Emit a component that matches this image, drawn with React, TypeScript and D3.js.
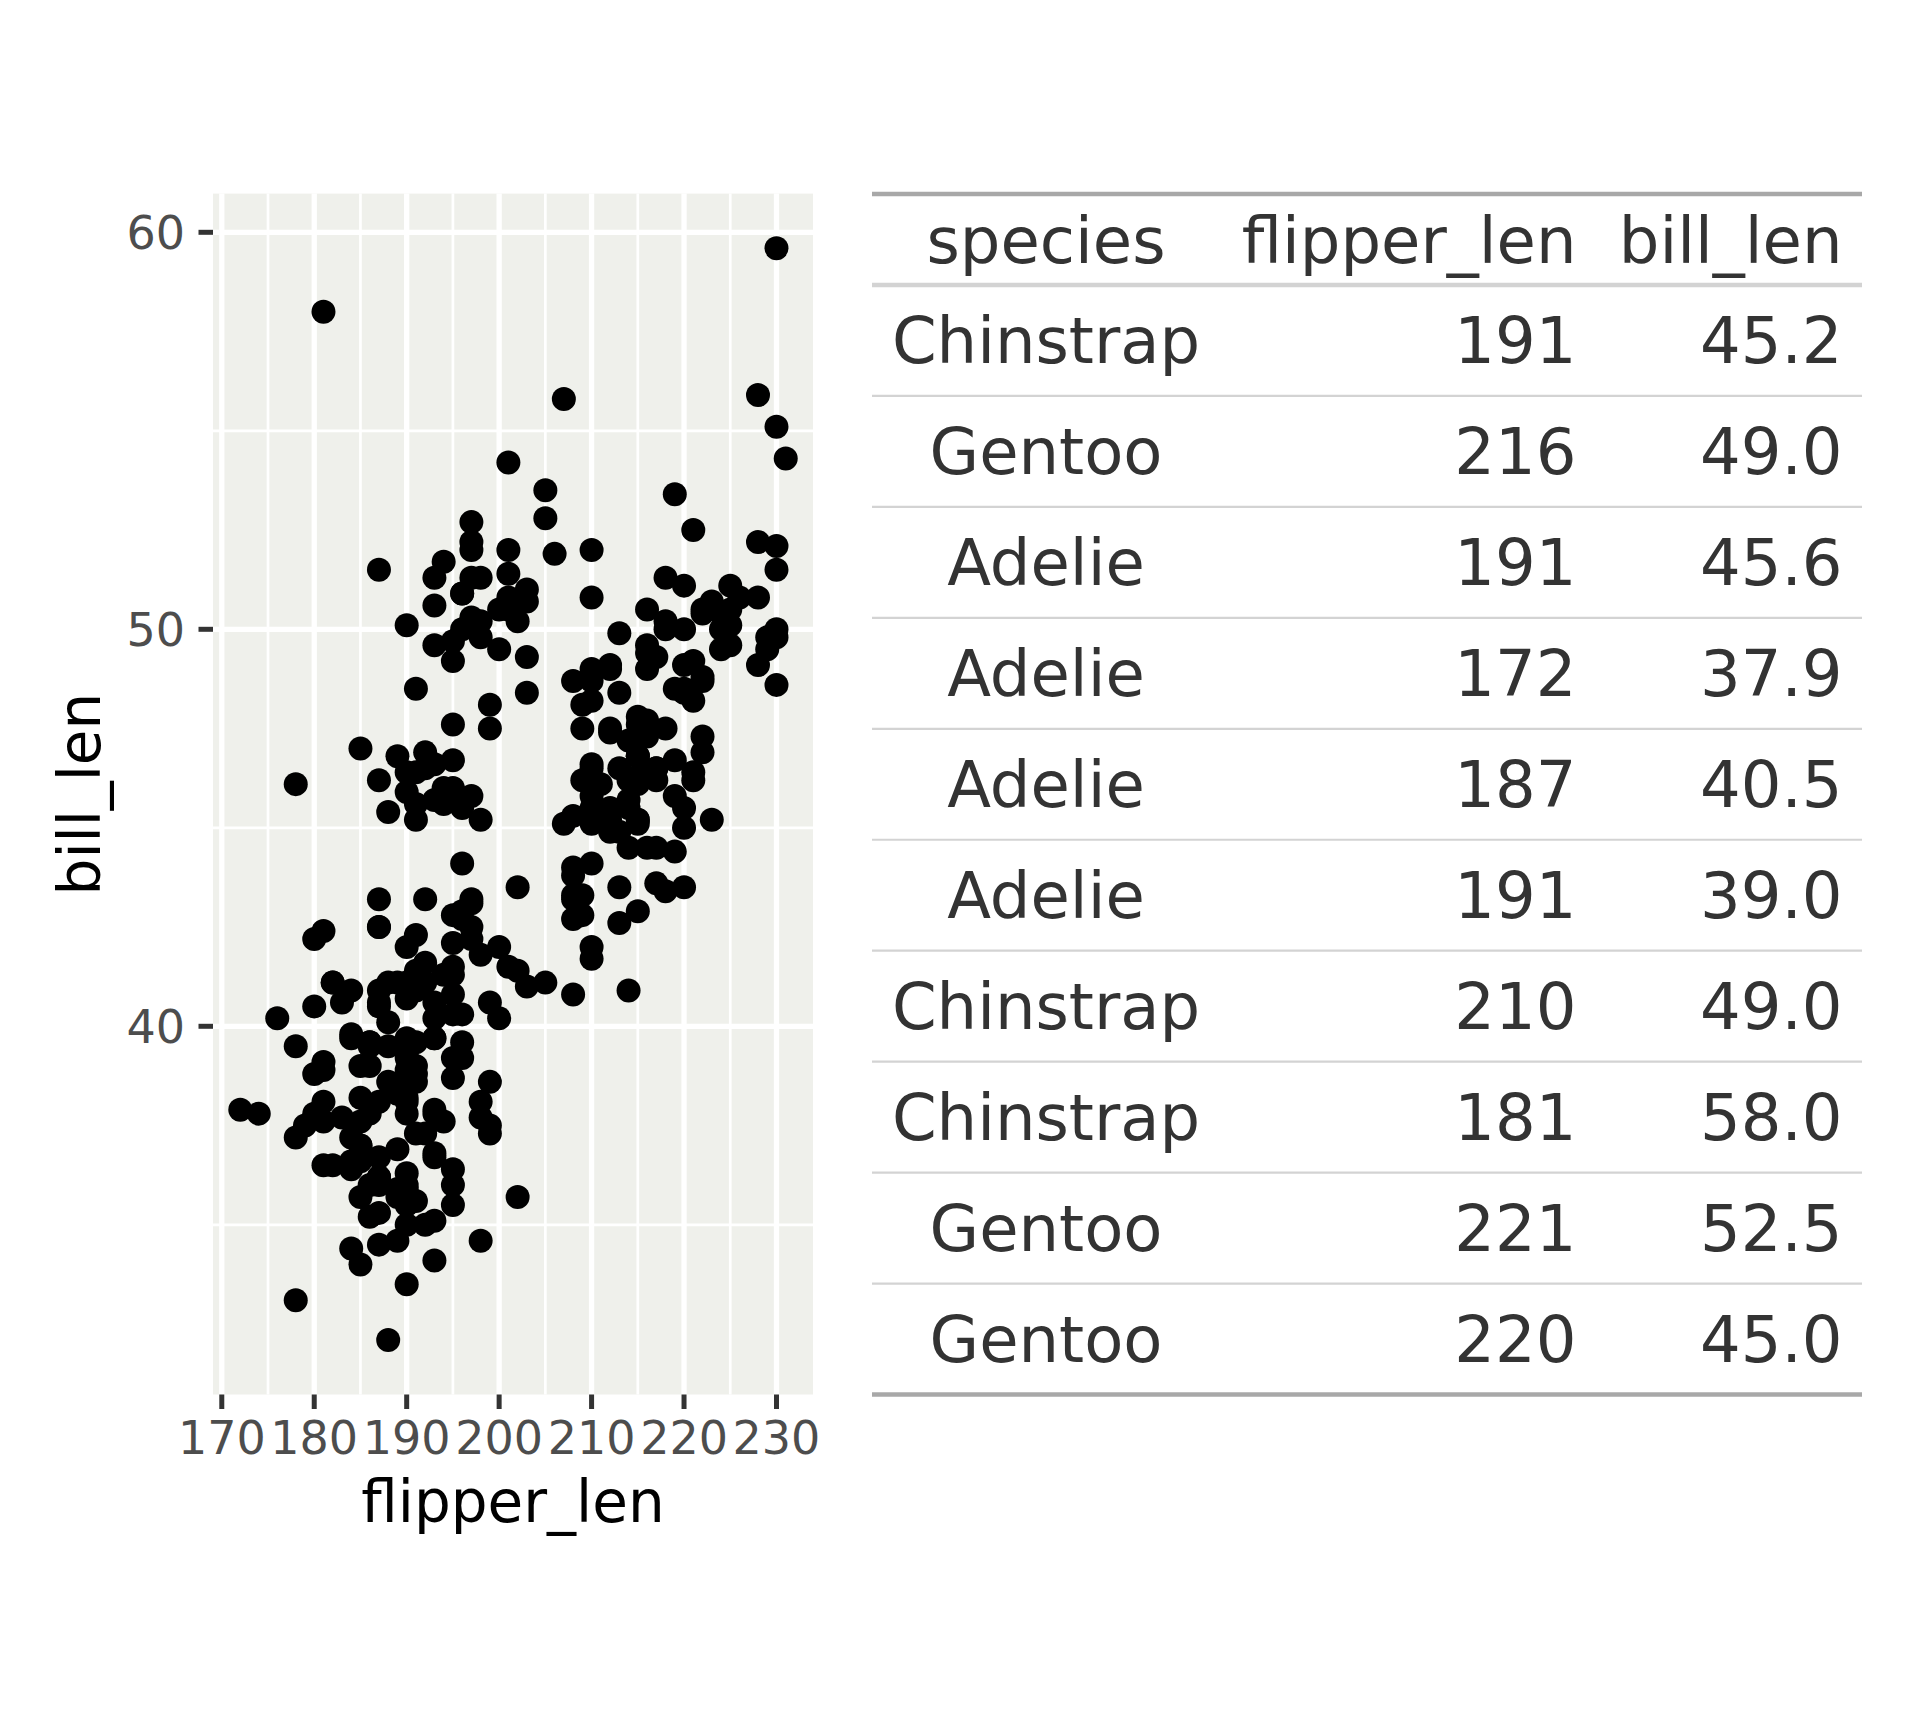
import React from "react";
import * as d3 from "d3";

// Palmer penguins: flipper length (mm) vs bill length (mm)
const adelieFlipper = [181,186,195,193,190,181,195,193,190,186,180,182,191,198,185,195,197,184,194,174,180,189,185,180,187,183,187,172,180,178,178,188,184,195,196,190,180,181,184,182,195,186,196,185,190,182,179,190,191,186,188,190,200,187,191,186,193,181,194,185,195,185,192,184,192,195,188,190,198,190,190,196,197,190,195,191,184,187,195,189,196,187,193,191,194,190,189,189,190,202,205,185,186,187,208,190,196,178,192,192,203,183,190,193,184,199,190,181,197,198,191,193,197,191,196,188,199,189,189,187,198,176,202,186,199,191,195,191,210,190,197,193,199,187,190,191,200,185,193,193,187,188,190,192,185,190,184,195,193,187,201];
const adelieBill = [39.1,39.5,40.3,36.7,39.3,38.9,39.2,34.1,42.0,37.8,37.8,41.1,38.6,34.6,36.6,38.7,42.5,34.4,46.0,37.8,37.7,35.9,38.2,38.8,35.3,40.6,40.5,37.9,40.5,39.5,37.2,39.5,40.9,36.4,39.2,38.8,42.2,37.6,39.8,36.5,40.8,36.0,44.1,37.0,39.6,41.1,37.5,36.0,42.3,39.6,40.1,35.0,42.0,34.5,41.4,39.0,40.6,36.5,37.6,35.7,41.3,37.6,41.1,36.4,41.6,35.5,41.1,35.9,41.8,33.5,39.7,39.6,45.8,35.5,42.8,40.9,37.2,36.2,42.1,34.6,42.9,36.7,35.1,37.3,41.3,36.3,36.9,38.3,38.9,35.7,41.1,34.0,39.6,36.2,40.8,38.1,40.3,33.1,43.2,35.0,41.0,37.7,37.8,37.9,39.7,38.6,38.2,38.1,43.2,38.1,45.6,39.7,42.2,39.6,42.7,38.6,37.3,35.7,41.1,36.2,37.7,40.2,41.4,35.2,40.6,38.8,41.5,39.0,44.1,38.5,43.1,36.8,37.5,38.1,41.1,35.6,40.2,37.0,39.7,40.2,40.6,32.1,40.7,37.3,39.0,39.2,36.6,36.0,37.8,36.0,41.5];

const gentooFlipper = [211,230,210,218,215,210,211,219,209,215,214,216,214,213,210,217,210,221,209,222,218,215,213,215,215,215,216,215,210,220,222,209,207,230,220,220,213,219,208,208,208,225,210,216,222,217,210,225,213,215,210,220,210,225,217,220,208,220,208,224,208,221,214,231,219,230,214,229,220,223,216,221,221,217,216,230,209,220,215,223,212,221,212,224,212,228,218,218,212,230,218,228,212,224,214,226,216,222,203,225,219,228,215,228,216,215,210,219,208,209,216,229,213,230,217,230,217,222,214,215,222,212,213];
const gentooBill = [46.1,50.0,48.7,50.0,47.6,46.5,45.4,46.7,43.3,46.8,40.9,49.0,45.5,48.4,45.8,49.3,42.0,49.2,46.2,48.7,50.2,45.1,46.5,46.3,42.9,46.1,44.5,47.8,48.2,50.0,47.3,42.8,45.1,59.6,49.1,48.4,42.6,44.4,44.0,48.7,42.7,49.6,45.3,49.6,50.5,43.6,45.5,50.5,44.9,45.2,46.6,48.5,45.1,50.1,46.5,45.0,43.8,45.5,43.2,50.4,45.3,46.2,45.7,54.3,45.8,49.8,46.2,49.5,43.5,50.7,47.7,46.4,48.2,46.5,46.4,48.6,47.5,51.1,45.2,45.2,49.1,52.5,47.4,50.0,44.9,50.8,43.4,51.3,47.5,52.1,47.5,52.2,45.5,49.5,44.5,50.8,49.4,46.9,48.4,51.1,48.5,55.9,47.2,49.1,47.3,46.8,41.7,53.4,43.3,48.1,50.5,49.8,43.5,51.5,46.2,55.1,44.5,48.8,47.2,46.8,50.4,45.2,49.9];

const chinstrapFlipper = [192,196,193,188,197,198,178,197,195,198,193,194,185,201,190,201,197,181,190,195,181,191,187,193,195,197,200,200,191,205,187,201,187,203,195,199,195,210,192,205,210,187,196,196,196,201,190,212,187,198,199,201,193,203,187,197,191,203,202,194,206,189,195,207,202,193,210,198];
const chinstrapBill = [46.5,50.0,51.3,45.4,52.7,45.2,46.1,51.3,46.0,51.3,46.6,51.7,47.0,52.0,45.9,50.5,50.3,58.0,46.4,49.2,42.4,48.5,43.2,50.6,46.7,52.0,50.5,49.5,46.4,52.8,40.9,54.2,42.5,51.0,49.7,47.5,47.6,52.0,46.9,53.5,49.0,46.2,50.9,45.5,50.9,50.8,50.1,49.0,51.5,49.8,48.1,51.4,45.7,50.7,42.5,52.2,45.2,49.3,50.2,45.6,51.9,46.8,45.7,55.8,43.5,49.6,50.8,50.2];

const xTicks = [170, 180, 190, 200, 210, 220, 230];
const xMinor = [175, 185, 195, 205, 215, 225];
const yTicks = [40, 50, 60];
const yMinor = [35, 45, 55];

// table
const tableHeaders = ["species", "flipper_len", "bill_len"];
const tableSpecies = ["Chinstrap","Gentoo","Adelie","Adelie","Adelie","Adelie","Chinstrap","Chinstrap","Gentoo","Gentoo"];
const tableFlipper = [191,216,191,172,187,191,210,181,221,220];
const tableBill = [45.2,49.0,45.6,37.9,40.5,39.0,49.0,58.0,52.5,45.0];

const FONT = "'DejaVu Sans', sans-serif";

export default function App() {
  const flip = [...adelieFlipper, ...gentooFlipper, ...chinstrapFlipper];
  const bill = [...adelieBill, ...gentooBill, ...chinstrapBill];
  const points = flip.map((f, i) => ({ f, b: bill[i] }));

  const panel = { x0: 213, x1: 813, y0: 193.6, y1: 1394.5 };
  const [fMin, fMax] = d3.extent(flip) as [number, number];
  const [bMin, bMax] = d3.extent(bill) as [number, number];
  const fPad = (fMax - fMin) * 0.05;
  const bPad = (bMax - bMin) * 0.05;
  const x = d3.scaleLinear().domain([fMin - fPad, fMax + fPad]).range([panel.x0, panel.x1]);
  const y = d3.scaleLinear().domain([bMin - bPad, bMax + bPad]).range([panel.y1, panel.y0]);

  // table geometry
  const tTop = 194, tHeadBottom = 285, tBottom = 1394.5, tLeft = 872, tRight = 1862;
  const rowH = (tBottom - tHeadBottom) / tableSpecies.length;
  const fs = 64;
  const colSpeciesX = 1046, colFlipX = 1576.5, colBillX = 1842.5;
  const textColor = "#333333";

  return (
    <svg width={1920} height={1728} style={{ position: "absolute", left: 0, top: 0, background: "#fff" }} fontFamily={FONT}>
      <rect x={0} y={0} width={1920} height={1728} fill="#ffffff" />
      {/* panel */}
      <rect x={panel.x0} y={panel.y0} width={panel.x1 - panel.x0} height={panel.y1 - panel.y0} fill="#EFF0EB" />
      {xMinor.map((v) => (
        <line key={"xm" + v} x1={x(v)} x2={x(v)} y1={panel.y0} y2={panel.y1} stroke="#fff" strokeWidth={2.7} />
      ))}
      {yMinor.map((v) => (
        <line key={"ym" + v} x1={panel.x0} x2={panel.x1} y1={y(v)} y2={y(v)} stroke="#fff" strokeWidth={2.7} />
      ))}
      {xTicks.map((v) => (
        <line key={"xg" + v} x1={x(v)} x2={x(v)} y1={panel.y0} y2={panel.y1} stroke="#fff" strokeWidth={5.3} />
      ))}
      {yTicks.map((v) => (
        <line key={"yg" + v} x1={panel.x0} x2={panel.x1} y1={y(v)} y2={y(v)} stroke="#fff" strokeWidth={5.3} />
      ))}
      {points.map((p, i) => (
        <circle key={i} cx={x(p.f)} cy={y(p.b)} r={12} fill="#000" />
      ))}
      {/* x axis */}
      {xTicks.map((v) => (
        <g key={"xt" + v}>
          <line x1={x(v)} x2={x(v)} y1={panel.y1} y2={panel.y1 + 14.5} stroke="#333333" strokeWidth={5} />
          <text x={x(v)} y={1454} textAnchor="middle" fontSize={46} fill="#4D4D4D">{v}</text>
        </g>
      ))}
      {yTicks.map((v) => (
        <g key={"yt" + v}>
          <line x1={panel.x0 - 14.5} x2={panel.x0} y1={y(v)} y2={y(v)} stroke="#333333" strokeWidth={5} />
          <text x={185} y={y(v) + 16.5} textAnchor="end" fontSize={46} fill="#4D4D4D">{v}</text>
        </g>
      ))}
      <text x={(panel.x0 + panel.x1) / 2} y={1522} textAnchor="middle" fontSize={58} fill="#000">flipper_len</text>
      <text transform={`translate(100, ${(panel.y0 + panel.y1) / 2}) rotate(-90)`} textAnchor="middle" fontSize={58} fill="#000">bill_len</text>

      {/* table */}
      <line x1={tLeft} x2={tRight} y1={tTop} y2={tTop} stroke="#A8A8A8" strokeWidth={4.4} />
      <text x={colSpeciesX} y={(tTop + tHeadBottom) / 2 + 23} textAnchor="middle" fontSize={fs} fill={textColor}>{tableHeaders[0]}</text>
      <text x={colFlipX} y={(tTop + tHeadBottom) / 2 + 23} textAnchor="end" fontSize={fs} fill={textColor}>{tableHeaders[1]}</text>
      <text x={colBillX} y={(tTop + tHeadBottom) / 2 + 23} textAnchor="end" fontSize={fs} fill={textColor}>{tableHeaders[2]}</text>
      {tableSpecies.map((s, i) => {
        const top = tHeadBottom + i * rowH;
        const base = top + rowH / 2 + 23;
        return (
          <g key={"row" + i}>
            {i > 0 && <line x1={tLeft} x2={tRight} y1={top} y2={top} stroke="#D3D3D3" strokeWidth={2.2} />}
            <text x={colSpeciesX} y={base} textAnchor="middle" fontSize={fs} fill={textColor}>{s}</text>
            <text x={colFlipX} y={base} textAnchor="end" fontSize={fs} fill={textColor}>{tableFlipper[i]}</text>
            <text x={colBillX} y={base} textAnchor="end" fontSize={fs} fill={textColor}>{tableBill[i].toFixed(1)}</text>
          </g>
        );
      })}
      <line x1={tLeft} x2={tRight} y1={tHeadBottom} y2={tHeadBottom} stroke="#D3D3D3" strokeWidth={4.4} />
      <line x1={tLeft} x2={tRight} y1={tBottom} y2={tBottom} stroke="#A8A8A8" strokeWidth={4.4} />
    </svg>
  );
}
